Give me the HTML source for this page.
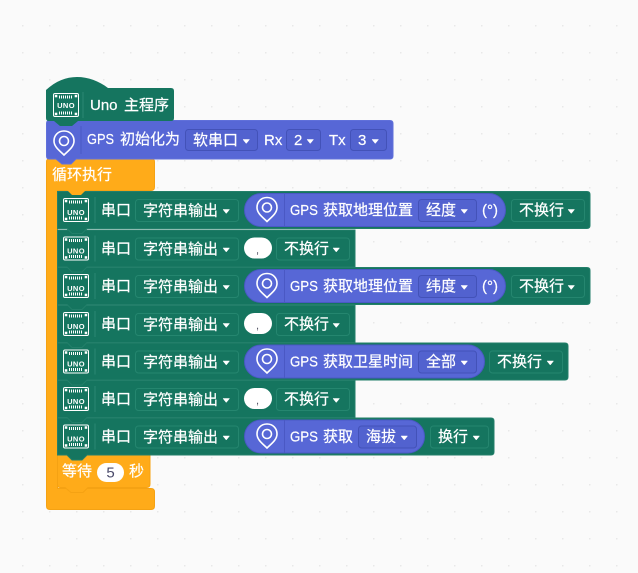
<!DOCTYPE html>
<html><head><meta charset="utf-8"><style>
html,body{margin:0;padding:0;background:#fafafa}
svg{display:block}
text{font-family:"Liberation Sans","Noto Sans CJK SC",sans-serif;font-size:15px;fill:#fff;stroke:#fff;stroke-width:.2}
.u{font-size:7.500px;font-weight:bold;letter-spacing:.4px;text-anchor:middle;stroke:none}
.l{font-size:15px}
.g{fill:#15755f;stroke:#237f6a;stroke-width:1}
.b{fill:#5767d6;stroke:#6070da;stroke-width:1}
.o{fill:#ffab19;stroke:#f5a213;stroke-width:1}
.dg{fill:#15755f;stroke:#25866f;stroke-width:1}
.db{fill:#5262cf;stroke:#4352b8;stroke-width:1}
.p{fill:#5767d6;stroke:#4a58c4;stroke-width:1}
.sg{stroke:#2a8873;stroke-width:1}
.sb{stroke:#4a58c4;stroke-width:1}
.c{fill:#556;stroke:none;font-size:11px}
</style></head><body>
<svg width="638" height="573" viewBox="0 0 638 573" xmlns="http://www.w3.org/2000/svg">
<defs>
<pattern id="dots" x="22" y="25" width="27" height="27" patternUnits="userSpaceOnUse"><rect width="1.500" height="1.500" fill="#e8e8e8"/></pattern>
<g id="ard"><path d="M0 -.5 h6.500 l-3.250 4z" fill="#fff" stroke="#fff" stroke-width=".5" stroke-linejoin="round"/></g>
<g id="pin"><path d="M11 1 C5 1 1 5.500 1 11 C1 17 7 21 11 25 C15 21 21 17 21 11 C21 5.500 17 1 11 1Z" fill="none" stroke="#fff" stroke-width="1.600"/><circle cx="11" cy="11" r="4.500" fill="none" stroke="#fff" stroke-width="1.600"/></g>
<g id="uno"><rect x=".5" y=".5" width="25" height="23" rx="1.500" fill="none" stroke="#fff" stroke-width="1"/><path d="M6 4H20M6 20H20" stroke="#fff" stroke-width="3" stroke-dasharray="1 1" fill="none"/><rect x="1.800" y="1.800" width="2.500" height="2.500" fill="#fff"/><rect x="21.700" y="1.800" width="2.500" height="2.500" fill="#fff"/><rect x="1.800" y="19.700" width="2.500" height="2.500" fill="#fff"/><rect x="21.700" y="19.700" width="2.500" height="2.500" fill="#fff"/></g>
</defs>
<rect width="638" height="573" fill="#fafafa"/>
<rect width="638" height="573" fill="url(#dots)"/>

<!-- C block -->
<path class="o" d="M50 158.500 H151 Q154.500 158.500 154.500 162 V187 Q154.500 190.500 151 190.500 H57.500 V488.500 H151 Q154.500 488.500 154.500 492 V506 Q154.500 509.500 151 509.500 H50 Q46.500 509.500 46.500 506 V162 Q46.500 158.500 50 158.500Z"/>
<!-- wait -->
<path class="o" d="M57.500 455 H150 V484 Q150 487.500 146.500 487.500 H88 L83 492.500 H71 L65 487.500 H60 Q57.500 487.500 57.500 484Z"/>
<text x="62" y="476">等待</text>
<rect x="97" y="463" width="27" height="19" rx="9.500" fill="#fff" stroke="none"/>
<text x="110.500" y="477.500" text-anchor="middle" style="fill:#4a4a6a;stroke:none">5</text>
<text x="129" y="476">秒</text>

<!-- row 7 -->
<g transform="translate(0,417.500)">
<path class="g" d="M57.500 .5 H491 Q494 .5 494 3.500 V34.500 Q494 37.500 491 37.500 H87 L82 42.500 H72 L67 37.500 H57.500Z"/>
<use href="#uno" x="63" y="7"/><path class="sg" d="M95 6V32"/>
<text x="116" y="24" text-anchor="middle">串口</text>
<rect class="dg" x="135.500" y="8.500" width="103" height="22" rx="3"/><text x="143" y="24.500">字符串输出</text><use href="#ard" x="223" y="19"/>
<rect class="p" x="244.500" y="2.500" width="180" height="33" rx="16.500"/>
<use href="#pin" x="256" y="5.500"/><path class="sb" d="M284.500 3V35"/>
<text class="l" x="290" y="24" textLength="28" lengthAdjust="spacingAndGlyphs">GPS</text><text x="323" y="24">获取</text>
<rect class="db" x="358.500" y="8.500" width="58" height="22" rx="3"/><text x="366" y="24">海拔</text><use href="#ard" x="401" y="19"/>
<rect class="dg" x="430.500" y="8.500" width="58" height="22" rx="3"/><text x="438" y="24">换行</text><use href="#ard" x="473" y="19"/>
</g>
<!-- row 6 -->
<g transform="translate(0,380)">
<path class="g" d="M57.500 .5 H355 V37.500 H87 L82 42.500 H72 L67 37.500 H57.500Z"/>
<use href="#uno" x="63" y="7"/><path class="sg" d="M95 6V32"/>
<text x="116" y="24" text-anchor="middle">串口</text>
<rect class="dg" x="135.500" y="8.500" width="103" height="22" rx="3"/><text x="143" y="24.500">字符串输出</text><use href="#ard" x="223" y="19"/>
<rect x="244" y="8" width="28" height="21" rx="10.500" fill="#fff"/><text class="c" x="256" y="24">,</text>
<rect class="dg" x="276.500" y="8.500" width="73" height="22" rx="3"/><text x="284" y="24">不换行</text><use href="#ard" x="333" y="19"/>
</g>
<!-- row 5 -->
<g transform="translate(0,342.500)">
<path class="g" d="M57.500 .5 H565 Q568 .5 568 3.500 V34.500 Q568 37.500 565 37.500 H87 L82 42.500 H72 L67 37.500 H57.500Z"/>
<use href="#uno" x="63" y="7"/><path class="sg" d="M95 6V32"/>
<text x="116" y="24" text-anchor="middle">串口</text>
<rect class="dg" x="135.500" y="8.500" width="103" height="22" rx="3"/><text x="143" y="24.500">字符串输出</text><use href="#ard" x="223" y="19"/>
<rect class="p" x="244.500" y="2.500" width="240" height="33" rx="16.500"/>
<use href="#pin" x="256" y="5.500"/><path class="sb" d="M284.500 3V35"/>
<text class="l" x="290" y="24" textLength="28" lengthAdjust="spacingAndGlyphs">GPS</text><text x="323" y="24">获取卫星时间</text>
<rect class="db" x="418.500" y="8.500" width="58" height="22" rx="3"/><text x="426" y="24">全部</text><use href="#ard" x="461" y="19"/>
<rect class="dg" x="489.500" y="8.500" width="73" height="22" rx="3"/><text x="497" y="24">不换行</text><use href="#ard" x="547" y="19"/>
</g>
<!-- row 4 -->
<g transform="translate(0,305)">
<path class="g" d="M57.500 .5 H355 V37.500 H87 L82 42.500 H72 L67 37.500 H57.500Z"/>
<use href="#uno" x="63" y="7"/><path class="sg" d="M95 6V32"/>
<text x="116" y="24" text-anchor="middle">串口</text>
<rect class="dg" x="135.500" y="8.500" width="103" height="22" rx="3"/><text x="143" y="24.500">字符串输出</text><use href="#ard" x="223" y="19"/>
<rect x="244" y="8" width="28" height="21" rx="10.500" fill="#fff"/><text class="c" x="256" y="24">,</text>
<rect class="dg" x="276.500" y="8.500" width="73" height="22" rx="3"/><text x="284" y="24">不换行</text><use href="#ard" x="333" y="19"/>
</g>
<!-- row 3 -->
<g transform="translate(0,267)">
<path class="g" d="M57.500 .5 H587 Q590 .5 590 3.500 V34.500 Q590 37.500 587 37.500 H87 L82 42.500 H72 L67 37.500 H57.500Z"/>
<use href="#uno" x="63" y="7"/><path class="sg" d="M95 6V32"/>
<text x="116" y="24" text-anchor="middle">串口</text>
<rect class="dg" x="135.500" y="8.500" width="103" height="22" rx="3"/><text x="143" y="24.500">字符串输出</text><use href="#ard" x="223" y="19"/>
<rect class="p" x="244.500" y="2.500" width="261" height="33" rx="16.500"/>
<use href="#pin" x="256" y="5.500"/><path class="sb" d="M284.500 3V35"/>
<text class="l" x="290" y="24" textLength="28" lengthAdjust="spacingAndGlyphs">GPS</text><text x="323" y="24">获取地理位置</text>
<rect class="db" x="418.500" y="8.500" width="58" height="22" rx="3"/><text x="426" y="24">纬度</text><use href="#ard" x="461" y="19"/>
<text x="482" y="24">(°)</text>
<rect class="dg" x="511.500" y="8.500" width="73" height="22" rx="3"/><text x="519" y="24">不换行</text><use href="#ard" x="568" y="19"/>
</g>
<!-- row 2 -->
<g transform="translate(0,229.500)">
<path class="g" d="M57.500 .5 H355 V37.500 H87 L82 42.500 H72 L67 37.500 H57.500Z"/>
<use href="#uno" x="63" y="7"/><path class="sg" d="M95 6V32"/>
<text x="116" y="24" text-anchor="middle">串口</text>
<rect class="dg" x="135.500" y="8.500" width="103" height="22" rx="3"/><text x="143" y="24.500">字符串输出</text><use href="#ard" x="223" y="19"/>
<rect x="244" y="8" width="28" height="21" rx="10.500" fill="#fff"/><text class="c" x="256" y="24">,</text>
<rect class="dg" x="276.500" y="8.500" width="73" height="22" rx="3"/><text x="284" y="24">不换行</text><use href="#ard" x="333" y="19"/>
</g>
<!-- row 1 -->
<g transform="translate(0,191)">
<path class="g" d="M57.500 .5 H587 Q590 .5 590 3.500 V34.500 Q590 37.500 587 37.500 H87 L82 42.500 H72 L67 37.500 H57.500Z"/>
<use href="#uno" x="63" y="7"/><path class="sg" d="M95 6V32"/>
<text x="116" y="24" text-anchor="middle">串口</text>
<rect class="dg" x="135.500" y="8.500" width="103" height="22" rx="3"/><text x="143" y="24.500">字符串输出</text><use href="#ard" x="223" y="19"/>
<rect class="p" x="244.500" y="2.500" width="261" height="33" rx="16.500"/>
<use href="#pin" x="256" y="5.500"/><path class="sb" d="M284.500 3V35"/>
<text class="l" x="290" y="24" textLength="28" lengthAdjust="spacingAndGlyphs">GPS</text><text x="323" y="24">获取地理位置</text>
<rect class="db" x="418.500" y="8.500" width="58" height="22" rx="3"/><text x="426" y="24">经度</text><use href="#ard" x="461" y="19"/>
<text x="482" y="24">(°)</text>
<rect class="dg" x="511.500" y="8.500" width="73" height="22" rx="3"/><text x="519" y="24">不换行</text><use href="#ard" x="568" y="19"/>
</g>
<!-- orange cap tab from C block title -->
<path d="M67 190 H86 L81 195 H72Z" fill="#ffab19"/>
<text x="52" y="179.500">循环执行</text>

<!-- blue -->
<path class="b" d="M49 120.500 H390 Q393 120.500 393 123.500 V156 Q393 159 390 159 H76 L71 164 H62 L56 159 H49 Q46.500 159 46.500 156 V123.500 Q46.500 120.500 49 120.500Z"/>
<use href="#pin" x="53" y="130"/><path class="sb" d="M81 126V154"/>
<text class="l" x="87" y="144" textLength="27" lengthAdjust="spacingAndGlyphs">GPS</text><text x="120" y="144">初始化为</text>
<rect class="db" x="185.500" y="129.500" width="72" height="21" rx="3"/><text x="193" y="145">软串口</text><use href="#ard" x="243" y="140"/>
<text x="264" y="145">Rx</text>
<rect class="db" x="286.500" y="129.500" width="34" height="21" rx="3"/><text x="294" y="145">2</text><use href="#ard" x="307" y="140"/>
<text x="329" y="145">Tx</text>
<rect class="db" x="350.500" y="129.500" width="36" height="21" rx="3"/><text x="358" y="145">3</text><use href="#ard" x="372" y="140"/>

<!-- hat -->
<path d="M46 90 C56 81 66 77 77 77 C88 77 99 81 108 88 H171 Q174 88 174 91 V118 Q174 121 171 121 H78 L72 126 H60 L54 121 H49 Q46 121 46 118Z" fill="#15755f"/>
<use href="#uno" x="53" y="93"/><path class="sg" d="M83 92V118"/>
<text class="u" x="66" y="108">UNO</text>
<text x="90" y="110">Uno</text><text x="124" y="110">主程序</text>

<text class="u" x="76" y="215">UNO</text>
<text class="u" x="76" y="253.500">UNO</text>
<text class="u" x="76" y="291">UNO</text>
<text class="u" x="76" y="329">UNO</text>
<text class="u" x="76" y="366.500">UNO</text>
<text class="u" x="76" y="404">UNO</text>
<text class="u" x="76" y="441.500">UNO</text>
</svg>
</body></html>
